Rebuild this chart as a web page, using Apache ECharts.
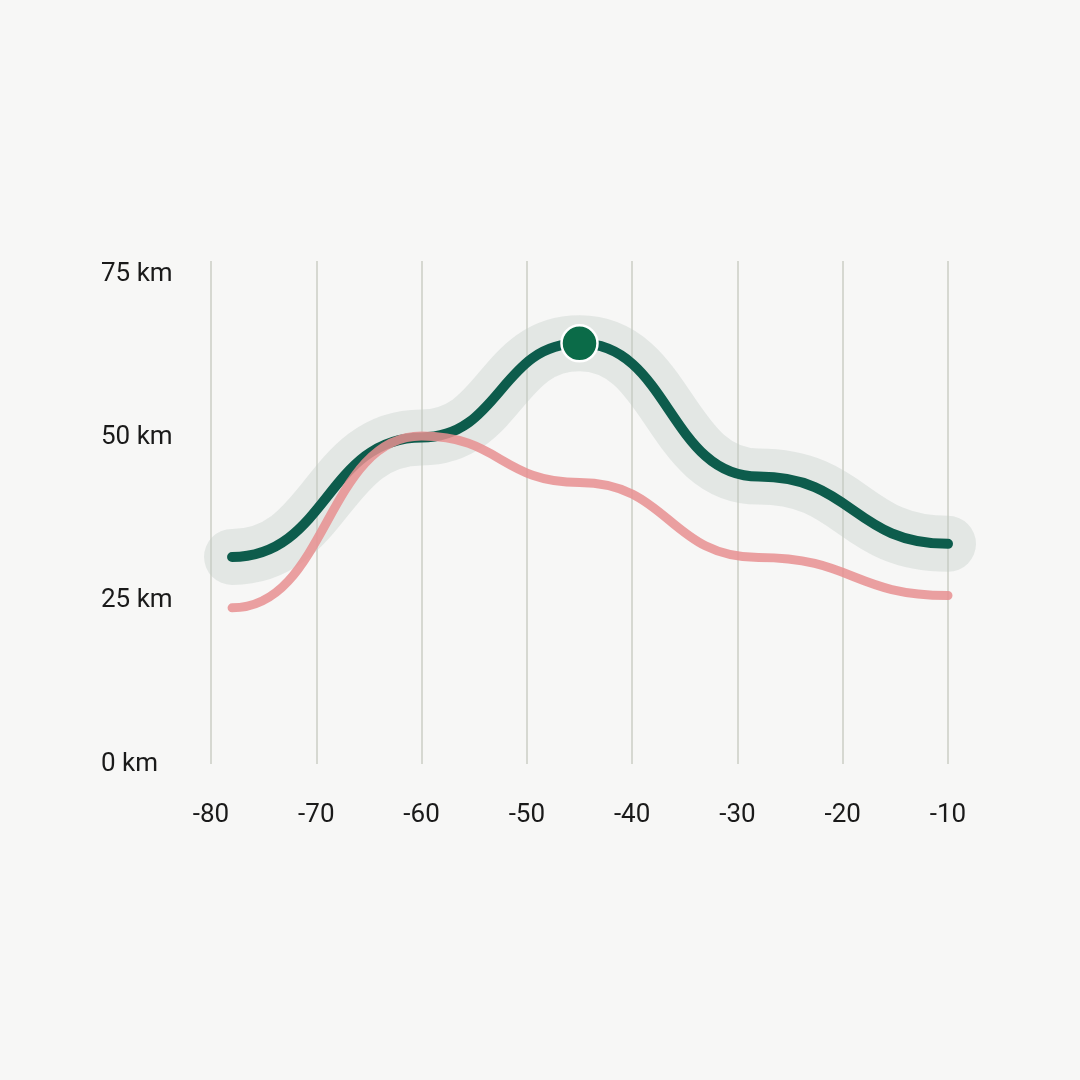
<!DOCTYPE html>
<html>
<head>
<meta charset="utf-8">
<script src="https://cdn.jsdelivr.net/npm/echarts@6/dist/echarts.min.js"></script>
<style>
html,body{margin:0;padding:0;background:#f7f7f6;}
#chart{width:1080px;height:1080px;}
</style>
</head>
<body>
<div id="chart"></div>
<script>
const xValues = [-78, -60, -45, -28, -10];
const greenValues = [31.7, 50.0, 64.4, 44.0, 33.7];
const pinkValues = [23.9, 50.2, 43.1, 31.6, 25.8];
const markerPoint = [-45, 64.4];
const yTickValues = [0, 25, 50, 75];

const SMOOTH = 0.5;

// Builds an SVG path through the points (pixel coords from the axes) with
// horizontal tangents at every point (like smoothMonotone 'x', flat ends too).
function curvePath(api, xs, ys) {
  const pts = xs.map((x, i) => api.coord([x, ys[i]]));
  let d = 'M' + pts[0][0] + ' ' + pts[0][1];
  for (let i = 1; i < pts.length; i++) {
    const p0 = pts[i - 1], p1 = pts[i];
    const dx = (p1[0] - p0[0]) * SMOOTH;
    d += ' C' + (p0[0] + dx) + ' ' + p0[1] + ' ' + (p1[0] - dx) + ' ' + p1[1] + ' ' + p1[0] + ' ' + p1[1];
  }
  return d;
}

function curveSeries(xs, ys, style, z) {
  return {
    type: 'custom', z: z, silent: true,
    data: xs.map((x, i) => [x, ys[i]]),
    encode: { x: 0, y: 1 },
    renderItem: function (params, api) {
      if (params.dataIndex !== 0) return null;
      return {
        type: 'path',
        shape: { pathData: curvePath(api, xs, ys) },
        style: Object.assign({ fill: null, lineCap: 'round', lineJoin: 'round' }, style)
      };
    }
  };
}

const chart = echarts.init(document.getElementById('chart'));
chart.setOption({
  backgroundColor: '#f7f7f6',
  animation: false,
  grid: { left: 211, right: 132, top: 261, bottom: 316 },
  xAxis: {
    type: 'value', min: -80, max: -10, interval: 10,
    axisLine: { show: false }, axisTick: { show: false },
    splitLine: { show: true, lineStyle: { color: '#d6d8d1', width: 2 } },
    axisLabel: { color: '#1a1a1a', fontSize: 26, fontFamily: 'Roboto', margin: 38 }
  },
  yAxis: {
    type: 'value', min: 0, max: 77,
    axisLine: { show: false }, axisTick: { show: false },
    splitLine: { show: false },
    axisLabel: {
      customValues: yTickValues,
      formatter: v => v + ' km',
      color: '#1a1a1a', fontSize: 26, fontFamily: 'Roboto',
      align: 'left', margin: 110, padding: [9, 0, 0, 0]
    }
  },
  series: [
    curveSeries(xValues, greenValues, { stroke: 'rgba(190,203,197,0.36)', lineWidth: 56 }, 1),
    curveSeries(xValues, greenValues, { stroke: '#0d5c4c', lineWidth: 10 }, 2),
    curveSeries(xValues, pinkValues, { stroke: '#e88f91', lineWidth: 9, opacity: 0.85 }, 3),
    {
      type: 'scatter', data: [markerPoint], symbolSize: 36, z: 4,
      itemStyle: { color: '#0b6b48', borderColor: '#ffffff', borderWidth: 2.5, opacity: 1 }
    }
  ]
});
</script>
</body>
</html>
